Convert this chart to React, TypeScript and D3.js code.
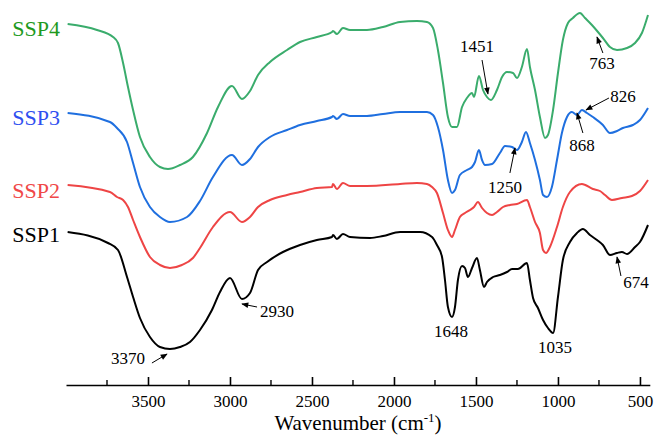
import React, { useEffect, useRef } from 'react';
import * as d3 from 'd3';

const width = 654;
const height = 441;

// [wavenumber, transmittance (a.u., offset)]
const ssp1: [number, number][] = [
  [3990, 153], [3744, 142], [3683, 135], [3628, 108], [3591, 88], [3549, 67], [3488, 48], [3427, 38],
  [3366, 36], [3305, 38], [3244, 43], [3183, 55], [3110, 75], [3061, 93], [3000, 107], [2927, 86],
  [2878, 92], [2829, 115], [2774, 123], [2677, 133], [2573, 140], [2470, 145], [2378, 148], [2372, 150],
  [2348, 146], [2311, 151], [2268, 148], [2146, 147], [2067, 149], [1963, 153], [1841, 153], [1768, 148],
  [1738, 140], [1707, 128], [1689, 105], [1671, 78], [1646, 68], [1628, 78], [1610, 105], [1585, 119],
  [1567, 117], [1549, 108], [1524, 117], [1494, 127], [1476, 115], [1451, 98], [1433, 103], [1396, 108],
  [1354, 110], [1311, 113], [1280, 116], [1244, 116], [1189, 122], [1171, 105], [1152, 87], [1122, 77],
  [1091, 65], [1061, 57], [1030, 52], [1000, 88], [970, 125], [927, 143], [884, 152], [848, 156],
  [805, 150], [762, 145], [726, 140], [683, 130], [640, 132], [610, 133], [579, 131], [530, 138],
  [500, 143], [451, 160],
];

const ssp2: [number, number][] = [
  [3990, 200], [3732, 193], [3689, 188], [3652, 185], [3622, 178], [3591, 165], [3549, 148], [3488, 128],
  [3427, 120], [3366, 117], [3293, 120], [3226, 127], [3183, 137], [3104, 158], [3000, 173], [2927, 163],
  [2878, 168], [2829, 178], [2756, 185], [2652, 190], [2573, 193], [2470, 197], [2378, 198], [2372, 201],
  [2348, 196], [2311, 202], [2268, 199], [2165, 199], [1963, 201], [1860, 202], [1799, 201], [1768, 198],
  [1738, 192], [1701, 172], [1671, 155], [1646, 148], [1628, 155], [1598, 168], [1567, 172], [1537, 175],
  [1512, 178], [1488, 183], [1463, 177], [1433, 172], [1402, 170], [1372, 173], [1335, 178], [1293, 180],
  [1250, 181], [1189, 185], [1171, 178], [1140, 163], [1110, 152], [1091, 135], [1073, 132], [1049, 138],
  [1006, 158], [970, 178], [927, 193], [854, 201], [787, 196], [744, 194], [713, 190], [671, 185],
  [610, 187], [549, 189], [500, 194], [451, 205],
];

const ssp3: [number, number][] = [
  [3990, 272], [3732, 263], [3689, 257], [3628, 243], [3591, 222], [3549, 198], [3488, 178], [3427, 168],
  [3366, 163], [3262, 168], [3183, 184], [3104, 208], [2988, 230], [2927, 220], [2878, 226], [2829, 238],
  [2756, 248], [2652, 255], [2573, 260], [2470, 264], [2378, 268], [2372, 269], [2348, 266], [2311, 271],
  [2268, 269], [2165, 269], [2067, 271], [1963, 273], [1799, 273], [1762, 270], [1732, 258], [1701, 235],
  [1671, 205], [1646, 192], [1628, 195], [1598, 210], [1555, 215], [1524, 218], [1506, 223], [1482, 235],
  [1463, 225], [1445, 220], [1402, 221], [1354, 232], [1323, 239], [1280, 238], [1250, 235], [1220, 243],
  [1195, 253], [1171, 242], [1140, 225], [1110, 205], [1091, 190], [1067, 188], [1037, 198], [1006, 225],
  [976, 252], [945, 268], [915, 273], [884, 270], [854, 275], [823, 272], [787, 268], [726, 260],
  [683, 252], [640, 254], [604, 257], [543, 260], [500, 265], [451, 277],
];

const ssp4: [number, number][] = [
  [3990, 361], [3811, 355], [3713, 348], [3683, 342], [3652, 322], [3622, 298], [3591, 275], [3549, 248],
  [3488, 228], [3427, 218], [3378, 216], [3305, 220], [3226, 228], [3140, 252], [3073, 278], [2988, 299],
  [2927, 286], [2878, 294], [2829, 310], [2756, 323], [2652, 335], [2573, 343], [2470, 348], [2378, 353],
  [2372, 354], [2348, 351], [2311, 357], [2268, 355], [2165, 355], [2067, 358], [1963, 363], [1860, 364],
  [1799, 363], [1762, 357], [1732, 335], [1701, 302], [1671, 268], [1646, 258], [1616, 258], [1585, 278],
  [1555, 287], [1524, 292], [1512, 288], [1482, 309], [1457, 295], [1433, 288], [1409, 285], [1372, 295],
  [1341, 308], [1311, 313], [1274, 312], [1250, 307], [1220, 318], [1189, 336], [1171, 318], [1140, 295],
  [1110, 268], [1079, 247], [1061, 250], [1030, 275], [1000, 312], [970, 345], [939, 362], [909, 367],
  [866, 372], [835, 367], [793, 360], [756, 353], [726, 347], [683, 338], [640, 335], [579, 337],
  [530, 342], [488, 352], [451, 370],
];

const seriesNames = ['SSP1', 'SSP2', 'SSP3', 'SSP4'];
const seriesData = [ssp1, ssp2, ssp3, ssp4];
const lineColors = ['#000000', '#ee4545', '#1f6fdf', '#3aac6c'];
const labelColors = ['#000000', '#f04848', '#3050f0', '#1e9a1e'];
// label baseline value at the left edge
const labelValues = [143, 187, 260, 349];

const majorTicks = [3500, 3000, 2500, 2000, 1500, 1000, 500];
const minorTicks = [3750, 3250, 2750, 2250, 1750, 1250, 750];

// text: [w, value], arrow tail/head: [w, value]
const peakLabels: { text: string; at: [number, number]; anchor: string; tail?: [number, number]; head?: [number, number] }[] = [
  { text: '3370', at: [3622, 21], anchor: 'middle', tail: [3476, 22], head: [3384, 31] },
  { text: '2930', at: [2817, 68], anchor: 'start', tail: [2835, 78], head: [2927, 81] },
  { text: '1648', at: [1652, 48], anchor: 'middle' },
  { text: '1035', at: [1018, 32], anchor: 'middle' },
  { text: '674', at: [524, 97], anchor: 'middle', tail: [616, 109], head: [640, 128] },
  { text: '1250', at: [1323, 192], anchor: 'middle', tail: [1293, 212], head: [1262, 237] },
  { text: '868', at: [854, 234], anchor: 'middle', tail: [848, 252], head: [884, 272] },
  { text: '826', at: [604, 283], anchor: 'middle', tail: [689, 287], head: [829, 275] },
  { text: '1451', at: [1494, 333], anchor: 'middle', tail: [1463, 325], head: [1427, 291] },
  { text: '763', at: [732, 316], anchor: 'middle', tail: [726, 332], head: [762, 348] },
];

const font = '"Liberation Serif", "Times New Roman", serif';

const App = () => {
  const svgRef = useRef(null);

  useEffect(() => {
    const svg = d3.select(svgRef.current);
    svg.selectAll('*').remove();

    const x = d3.scaleLinear().domain([4000, 440]).range([66, 649.8]);
    const y = d3.scaleLinear().domain([0, 385]).range([385, 0]);

    svg.append('defs').append('marker')
      .attr('id', 'arrowhead')
      .attr('viewBox', '0 0 10 10')
      .attr('refX', 9)
      .attr('refY', 5)
      .attr('markerWidth', 9)
      .attr('markerHeight', 7)
      .attr('markerUnits', 'userSpaceOnUse')
      .attr('orient', 'auto')
      .append('path')
      .attr('d', 'M0,1 L10,5 L0,9 Z')
      .attr('fill', '#000');

    const line = d3.line<[number, number]>()
      .x(d => x(d[0]))
      .y(d => y(d[1]))
      .curve(d3.curveMonotoneX);

    seriesData.forEach((s, i) => {
      svg.append('path')
        .datum(s)
        .attr('d', line)
        .attr('fill', 'none')
        .attr('stroke', lineColors[i])
        .attr('stroke-width', 2)
        .attr('stroke-linejoin', 'round');

      svg.append('text')
        .attr('x', 60)
        .attr('y', y(labelValues[i]))
        .attr('text-anchor', 'end')
        .attr('fill', labelColors[i])
        .style('font-family', font)
        .style('font-size', '22px')
        .text(seriesNames[i]);
    });

    // x axis, ticks pointing inward
    const axis = svg.append('g').attr('transform', 'translate(0,385)');
    axis.call(
      d3.axisBottom(x).tickValues(majorTicks).tickSize(-8).tickSizeOuter(0).tickPadding(10).tickFormat(d3.format('d'))
    );
    axis.select('.domain').attr('stroke-width', 1.6);
    axis.selectAll('.tick line').attr('stroke-width', 1.6);
    axis.selectAll('.tick text')
      .style('font-family', font)
      .style('font-size', '17px')
      .attr('fill', '#000');

    axis.selectAll('.minor')
      .data(minorTicks)
      .enter()
      .append('line')
      .attr('class', 'minor')
      .attr('x1', d => x(d))
      .attr('x2', d => x(d))
      .attr('y1', 0)
      .attr('y2', -5)
      .attr('stroke', '#000')
      .attr('stroke-width', 1.4);

    const title = svg.append('text')
      .attr('x', 358)
      .attr('y', 430)
      .attr('text-anchor', 'middle')
      .style('font-family', font)
      .style('font-size', '21px')
      .attr('fill', '#000');
    title.append('tspan').text('Wavenumber (cm');
    title.append('tspan').attr('dy', -8).style('font-size', '13px').text('-1');
    title.append('tspan').attr('dy', 8).text(')');

    peakLabels.forEach(p => {
      svg.append('text')
        .attr('x', x(p.at[0]))
        .attr('y', y(p.at[1]))
        .attr('text-anchor', p.anchor)
        .style('font-family', font)
        .style('font-size', '17px')
        .attr('fill', '#000')
        .text(p.text);
      if (p.tail && p.head) {
        svg.append('line')
          .attr('x1', x(p.tail[0]))
          .attr('y1', y(p.tail[1]))
          .attr('x2', x(p.head[0]))
          .attr('y2', y(p.head[1]))
          .attr('stroke', '#000')
          .attr('stroke-width', 1)
          .attr('marker-end', 'url(#arrowhead)');
      }
    });
  }, []);

  return (
    <div style={{ position: 'absolute', left: 0, top: 0 }}>
      <svg ref={svgRef} width={width} height={height} style={{ display: 'block', background: '#fff' }}></svg>
    </div>
  );
};

export default App;
